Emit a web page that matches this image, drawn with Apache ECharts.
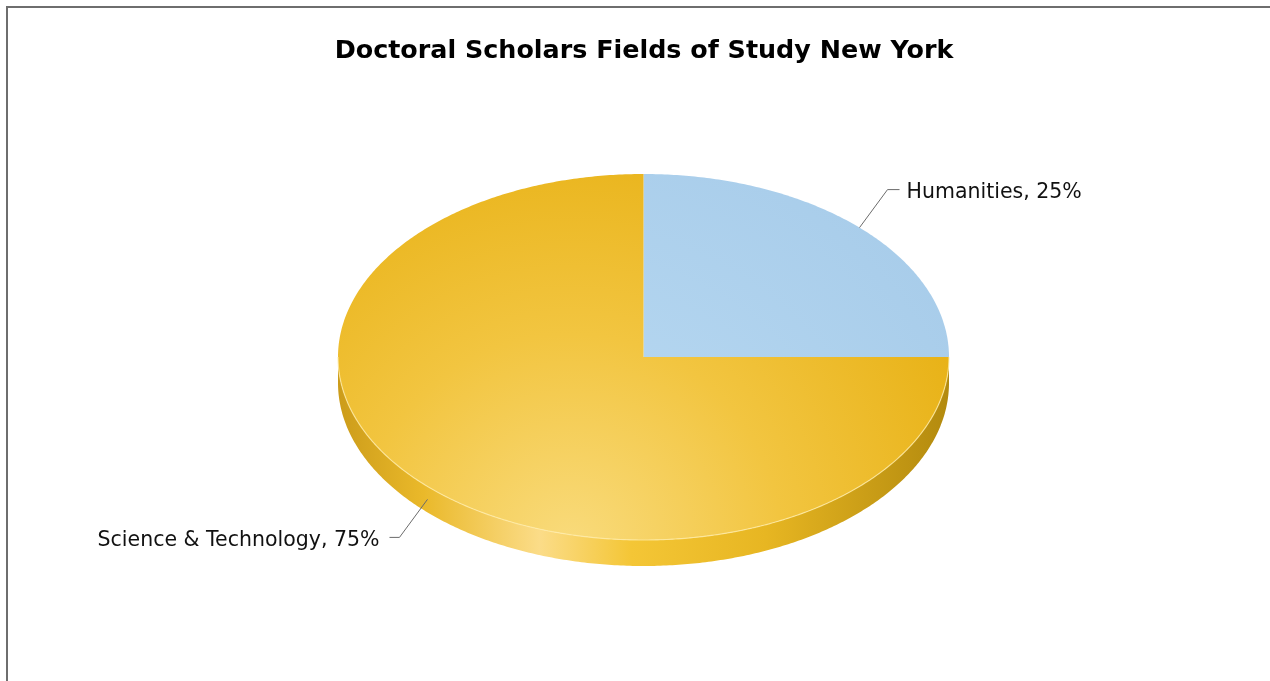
<!DOCTYPE html>
<html>
<head>
<meta charset="utf-8">
<script src="https://cdn.jsdelivr.net/npm/echarts@6/dist/echarts.min.js"></script>
<style>
  html, body { margin: 0; padding: 0; background: #fff; overflow: hidden; }
  #frame { position: absolute; left: 6px; top: 6px; width: 1300px; height: 700px; border-left: 2px solid #6e6e6e; border-top: 2px solid #6e6e6e; }
  #chart { position: absolute; left: 0; top: 0; width: 1270px; height: 681px; }
</style>
</head>
<body>
<div id="frame"></div>
<div id="chart"></div>
<script>
const titleText = 'Doctoral Scholars Fields of Study New York';
const categories = ['Humanities', 'Science & Technology'];
const values = [25, 75];

const total = values.reduce((a, b) => a + b, 0);
const starts = [];
let acc = 0;
values.forEach(v => { starts.push(acc); acc += v; });

// layout
const CX = 643.5, CY = 357, RX = 305.5, RY = 183, DEPTH = 26;

function pt(theta, dy) {
  return [CX + RX * Math.sin(theta), CY - RY * Math.cos(theta) + (dy || 0)];
}
function arc(a0, a1, dy) {
  const pts = [];
  const n = Math.max(2, Math.ceil(Math.abs(a1 - a0) / 0.01));
  for (let i = 0; i <= n; i++) pts.push(pt(a0 + (a1 - a0) * i / n, dy));
  return pts;
}

const topFills = [
  new echarts.graphic.RadialGradient(560, 560, 520, [
    { offset: 0, color: '#bcdcf4' }, { offset: 1, color: '#a6cbe9' }], true),
  new echarts.graphic.RadialGradient(570, 545, 470, [
    { offset: 0, color: '#f9db7c' }, { offset: 0.45, color: '#f2c540' }, { offset: 1, color: '#e6ae0e' }], true)
];
const sideFills = [
  new echarts.graphic.LinearGradient(CX - RX, 0, CX + RX, 0, [
    { offset: 0, color: '#8fb3d0' }, { offset: 1, color: '#7fa3c0' }], true),
  new echarts.graphic.LinearGradient(CX - RX, 0, CX + RX, 0, [
    { offset: 0, color: '#cc9c1a' },
    { offset: 0.14, color: '#eab92a' },
    { offset: 0.33, color: '#fbdc88' },
    { offset: 0.48, color: '#f4c636' },
    { offset: 0.7, color: '#e7b622' },
    { offset: 1, color: '#b38a0e' }], true)
];

function renderItem(params, api) {
  const i = params.dataIndex;
  const v = api.value(0);
  const a0 = starts[i] / total * Math.PI * 2;
  const a1 = (starts[i] + v) / total * Math.PI * 2;
  const children = [];
  const s0 = Math.max(a0, Math.PI / 2), s1 = Math.min(a1, Math.PI * 1.5);
  if (s1 > s0) {
    const top = arc(s0, s1, 0);
    const bot = arc(s1, s0, DEPTH);
    children.push({ type: 'polygon', shape: { points: top.concat(bot) }, style: { fill: sideFills[i] }, silent: true });
  }
  const topPts = [[CX, CY]].concat(arc(a0, a1, 0));
  children.push({ type: 'polygon', shape: { points: topPts }, style: { fill: topFills[i] }, silent: true });
  if (s1 > s0) {
    children.push({ type: 'polyline', shape: { points: arc(s0, s1, 0) }, style: { stroke: 'rgba(255,236,170,0.75)', lineWidth: 1.2, fill: null }, silent: true });
  }
  const mid = (a0 + a1) / 2;
  const inFront = Math.cos(mid) < 0;
  const anchor = pt(mid, inFront ? DEPTH / 2 : 0);
  const right = Math.sin(mid) >= 0;
  const dx = right ? 28 : -28;
  const dy = Math.cos(mid) >= 0 ? -38 : 38;
  const knee = [anchor[0] + dx, anchor[1] + dy];
  const end = [knee[0] + (right ? 12 : -10), knee[1]];
  children.push({ type: 'polyline', shape: { points: [anchor, knee, end] }, style: { stroke: '#6b6b6b', lineWidth: 1, fill: null }, silent: true });
  const pct = Math.round(v / total * 100);
  children.push({
    type: 'text', silent: true,
    style: {
      text: categories[i] + ', ' + pct + '%',
      x: end[0] + (right ? 7 : -10), y: knee[1] + 3,
      align: right ? 'left' : 'right', verticalAlign: 'middle',
      fill: '#111', font: '20.5px "DejaVu Sans", Verdana, sans-serif'
    }
  });
  return { type: 'group', children };
}

const chart = echarts.init(document.getElementById('chart'), null, { renderer: 'canvas' });
chart.setOption({
  animation: false,
  title: {
    text: titleText,
    left: 639, top: 34, textAlign: 'center',
    textStyle: { fontFamily: '"DejaVu Sans", Verdana, sans-serif', fontWeight: 'bold', fontSize: 25.4, color: '#000' }
  },
  series: [{
    type: 'custom',
    coordinateSystem: 'none',
    renderItem: renderItem,
    data: values.map((v, i) => ({ name: categories[i], value: [v] }))
  }]
});
</script>
</body>
</html>
